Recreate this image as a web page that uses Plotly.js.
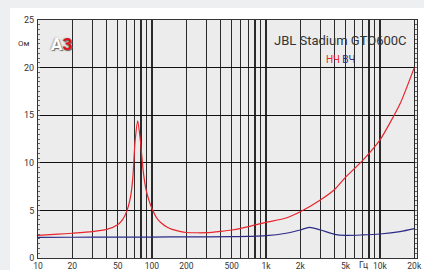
<!DOCTYPE html>
<html><head><meta charset="utf-8">
<script src="https://cdn.plot.ly/plotly-3.0.1.min.js"></script>
<style>
html,body{margin:0;padding:0;background:#eeeff1;width:424px;height:270px;overflow:hidden;}
#chart{position:absolute;left:10px;top:8px;width:414px;height:262px;}
</style></head><body>
<div id="chart"></div>
<script>
const redFreq = [10,15,20,30,40,50,55,60,65,68,71,75,79,84,89,95,100,110,120,135,150,175,200,250,300,400,500,700,1000,1500,2000,3000,4000,5000,7000,10000,15000,20000];
const redOhm  = [2.38,2.5,2.6,2.77,3.0,3.5,4.0,4.9,6.5,8.5,12.2,14.4,12.4,9.0,7.1,5.9,5.2,4.2,3.7,3.25,3.0,2.8,2.68,2.65,2.66,2.8,2.94,3.3,3.75,4.2,4.86,6.1,7.2,8.5,10.2,12.4,16.2,20.0];
const blueFreq = [10,20,50,100,200,500,700,1000,1500,2000,2400,3000,4000,5000,7000,10000,15000,20000];
const blueOhm  = [2.17,2.18,2.2,2.2,2.22,2.24,2.27,2.34,2.6,2.94,3.22,2.94,2.49,2.38,2.42,2.52,2.77,3.08];
const xLabelVals = [10,20,50,100,200,500,1000,2000,5000,10000,20000];
const xLabelText = ['10','20','50','100','200','500','1k','2k','5k','10k','20k'];
const yTickVals = [0,5,10,15,20,25];

const gridVals = [], gridText = [];
[10,100,1000,10000].forEach(d => {
  for (let m = 1; m <= 9; m++) {
    const v = d*m;
    if (v > 20000) break;
    gridVals.push(v);
    const i = xLabelVals.indexOf(v);
    gridText.push(i >= 0 ? xLabelText[i] : '');
  }
});

const data = [
  {x: redFreq, y: redOhm, type:'scatter', mode:'lines', line:{color:'#e8242c', width:1.2, shape:'spline', smoothing:0.6}, hoverinfo:'skip'},
  {x: blueFreq, y: blueOhm, type:'scatter', mode:'lines', line:{color:'#2b2a86', width:1.2, shape:'spline', smoothing:0.8}, hoverinfo:'skip'}
];

const layout = {
  width:414, height:262,
  margin:{l:28, r:7, t:12, b:12},
  paper_bgcolor:'#ffffff', plot_bgcolor:'#ececec',
  showlegend:false,
  font:{family:'Roboto, sans-serif', size:9, color:'#333'},
  xaxis:{type:'log', range:[1, 4.325], tickvals:gridVals, ticktext:gridText, showgrid:true, gridcolor:'#2a2a2a', gridwidth:1.3,
         showline:true, linecolor:'#333', linewidth:1, mirror:true, ticks:'', ticklabelstandoff:-1.5, zeroline:false,
         tickfont:{size:8.5, color:'#333'}, fixedrange:true},
  yaxis:{range:[0,25], tickvals:yTickVals, showgrid:true, gridcolor:'#111', gridwidth:1.2, zeroline:false,
         showline:true, linecolor:'#333', linewidth:1, mirror:'allticks', ticks:'inside', ticklen:0, tickcolor:'#555',
         minor:{dtick:0.5, ticks:'inside', ticklen:2, tickcolor:'#666', showgrid:false},
         ticklabelstandoff:1, tickfont:{size:9, color:'#333'}, fixedrange:true},
  annotations:[
    {xref:'paper', yref:'paper', x:0.979, y:0.915, xanchor:'right', yanchor:'middle', showarrow:false,
     text:'JBL Stadium GTO600C', font:{size:13, color:'#333', family:'Roboto, sans-serif'}},
    {xref:'paper', yref:'paper', x:0.842, y:0.833, xanchor:'right', yanchor:'middle', showarrow:false,
     text:'<span style="color:#e8242c">НЧ</span> <span style="color:#2b2a86">ВЧ</span>', font:{size:10, family:'Roboto, sans-serif'}},
    {xref:'paper', yref:'paper', x:0.028, y:0.9, xanchor:'left', yanchor:'middle', showarrow:false,
     text:'<b><span style="color:#ffffff">A</span><span style="color:#d9151b">3</span></b>',
     font:{size:17, family:'Roboto, sans-serif', shadow:'1px 1px 1px #666, -1px 0px 2px #aaa'}},
    {xref:'paper', yref:'paper', x:-0.015, y:0.9, xanchor:'right', yanchor:'middle', showarrow:false,
     text:'Ом', font:{size:8, color:'#333'}},
    {xref:'paper', yref:'paper', x:0.86, y:-0.028, xanchor:'center', yanchor:'middle', showarrow:false,
     text:'Гц', font:{size:8.5, color:'#333'}}
  ]
};
Plotly.newPlot('chart', data, layout, {staticPlot:true, displayModeBar:false});
</script>
</body></html>
